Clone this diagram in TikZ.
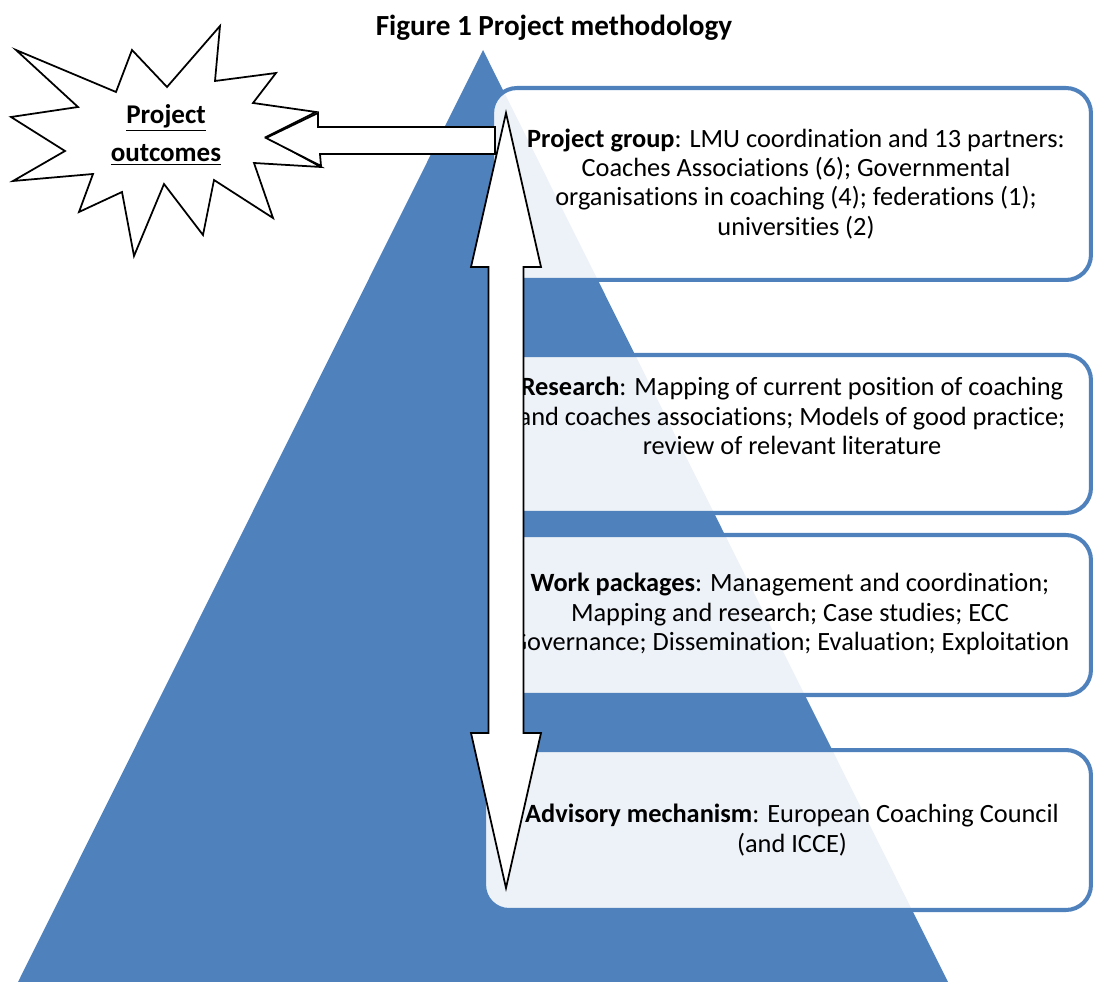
\documentclass[tikz,border=0pt]{standalone}
\usepackage{fontspec}
\setmainfont[Ligatures=NoCommon]{Carlito}
\usepackage{tikz}
\usetikzlibrary{positioning}
\definecolor{pyrblue}{HTML}{4F81BD}

\begin{document}
\begin{tikzpicture}
[x=0.02cm, y=-0.02cm, line width=1pt,
stage/.style={rectangle, draw=pyrblue, line width=2.3pt, rounded corners=0.5cm, fill=white, fill opacity=0.9, inner sep=0pt},
stagetext/.style={align=center, inner sep=0pt, font=\fontsize{15}{16.6}\selectfont},
blockarrow/.style={draw=black, fill=white, line width=1pt, line join=miter}]

\useasboundingbox (0,0) rectangle (1094,982);

\node[font=\fontsize{16.6}{19}\selectfont\bfseries] (title) at (554,28) {Figure 1 Project methodology};

\fill[pyrblue] (483,50) -- (948,982) -- (18,982) -- cycle;

\node[stage, minimum width=11.98cm, minimum height=3.84cm] (group) at (791.5,184) {};
\node[stage, minimum width=12.1cm, minimum height=3.16cm] (research) at (788.5,434) {};
\node[stage, minimum width=12.1cm, minimum height=3.2cm] (work) at (788.5,615) {};
\node[stage, minimum width=12.14cm, minimum height=3.2cm] (advisory) at (787.5,830) {};

\node[stagetext] (grouptext) at (796,184) {\textbf{Project group}: LMU coordination and 13 partners:\\
Coaches Associations (6); Governmental\\
organisations in coaching (4); federations (1);\\
universities (2)};
\node[stagetext] (researchtext) at (792,416) {\textbf{Research}: Mapping of current position of coaching\\
and coaches associations; Models of good practice;\\
review of relevant literature};
\node[stagetext] (worktext) at (790,614) {\textbf{Work packages}: Management and coordination;\\
Mapping and research; Case studies; ECC\\
Governance; Dissemination; Evaluation; Exploitation};
\node[stagetext] (advisorytext) at (792,830) {\textbf{Advisory mechanism}: European Coaching Council\\
(and ICCE)};

\draw[blockarrow] (16,50) -- (116,92) -- (132,50) -- (167,87) -- (220,26) -- (215,81)
  -- (276,73) -- (253,103) -- (316,112) -- (266,137) -- (321,167) -- (254,163)
  -- (273,218) -- (214,180) -- (203,235) -- (164,184) -- (134,256) -- (122,192)
  -- (79,212) -- (93,174) -- (13,181) -- (65,151) -- (11,117) -- (78,107) -- cycle;
\node[align=center, font=\fontsize{15.4}{21.6}\selectfont\bfseries] (outcomes) at (166,135) {\underline{Project}\\\underline{outcomes}};

\draw[blockarrow] (266,138) -- (318,113) -- (318,127) -- (495,127) -- (495,154)
  -- (320,154) -- (321,166) -- cycle;

\draw[blockarrow] (506,113) -- (541,267) -- (523.5,267) -- (523.5,733) -- (541,733)
  -- (506,888) -- (471,733) -- (488.5,733) -- (488.5,267) -- (471,267) -- cycle;

\end{tikzpicture}
\end{document}
